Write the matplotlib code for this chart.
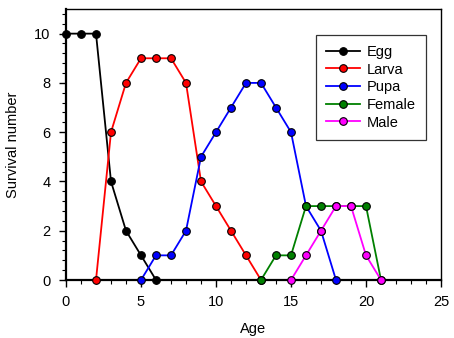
import matplotlib.pyplot as plt
from matplotlib.ticker import MultipleLocator

plt.rcParams['font.family'] = ['Liberation Sans', 'DejaVu Sans']
plt.rcParams['font.size'] = 10.5

# survival data
egg_age = [0, 1, 2, 3, 4, 5, 6]
egg = [10, 10, 10, 4, 2, 1, 0]
larva_age = [2, 3, 4, 5, 6, 7, 8, 9, 10, 11, 12, 13]
larva = [0, 6, 8, 9, 9, 9, 8, 4, 3, 2, 1, 0]
pupa_age = [5, 6, 7, 8, 9, 10, 11, 12, 13, 14, 15, 16, 17, 18]
pupa = [0, 1, 1, 2, 5, 6, 7, 8, 8, 7, 6, 3, 2, 0]
female_age = [13, 14, 15, 16, 17, 18, 19, 20, 21]
female = [0, 1, 1, 3, 3, 3, 3, 3, 0]
male_age = [15, 16, 17, 18, 19, 20, 21]
male = [0, 1, 2, 3, 3, 1, 0]

series = [
    (egg_age, egg, 'black', 'Egg'),
    (larva_age, larva, 'red', 'Larva'),
    (pupa_age, pupa, 'blue', 'Pupa'),
    (female_age, female, 'green', 'Female'),
    (male_age, male, 'magenta', 'Male'),
]

fig = plt.figure(figsize=(4.54, 3.38), dpi=100)
ax = fig.add_axes([66/454, 1 - 280/338, (441-66)/454, (280-9)/338])

for x, y, c, lab in series:
    ax.plot(x, y, color=c, lw=1.3, marker='o', ms=5.5, mfc=c, mec='black',
            mew=0.8, label=lab, clip_on=False, zorder=3)

ax.set_xlim(0, 25)
ax.set_ylim(0, 11)
ax.xaxis.set_major_locator(MultipleLocator(5))
ax.xaxis.set_minor_locator(MultipleLocator(1))
ax.yaxis.set_major_locator(MultipleLocator(2))
ax.yaxis.set_minor_locator(MultipleLocator(0.4))
ax.tick_params(which='major', direction='out', length=5, width=1, pad=6)
ax.tick_params(which='minor', direction='out', length=3, width=0.8)
for s in ['left', 'bottom']:
    ax.spines[s].set_linewidth(1.6)
for s in ['top', 'right']:
    ax.spines[s].set_linewidth(1.0)

ax.set_xlabel('Age', labelpad=9)
ax.set_ylabel('Survival number', labelpad=10)

leg = ax.legend(loc='upper right', bbox_to_anchor=(0.96, 0.905), borderaxespad=0,
                frameon=True, fancybox=False, edgecolor='black', handlelength=2.3,
                labelspacing=0.25, borderpad=0.7, handletextpad=0.5)
leg.get_frame().set_linewidth(0.9)

fig.savefig('out.png', dpi=100)
